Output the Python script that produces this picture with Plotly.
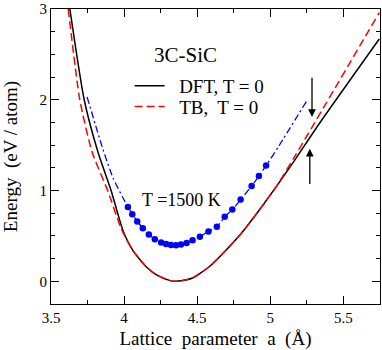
import plotly.graph_objects as go

# DFT, T = 0 (black solid)
dft_a = [3.629, 3.727, 3.82, 3.913, 3.992, 4.06, 4.151, 4.219, 4.31, 4.35, 4.40,
         4.468, 4.582, 4.695, 4.808, 4.922, 4.99, 5.035, 5.165, 5.34, 5.745]
dft_e = [3.0, 2.0, 1.43, 0.99, 0.56, 0.34, 0.16, 0.073, 0.01, 0.0, 0.008,
         0.037, 0.16, 0.34, 0.54, 0.78, 0.93, 1.03, 1.33, 1.75, 2.67]

# TB, T = 0 (red dashed)
tb_a = [3.618, 3.697, 3.78, 3.89, 3.98, 4.06, 4.151, 4.219, 4.31, 4.35, 4.40,
        4.468, 4.582, 4.695, 4.808, 4.922, 4.99, 5.035, 5.165, 5.745]
tb_e = [3.0, 2.0, 1.43, 0.99, 0.58, 0.34, 0.16, 0.073, 0.01, 0.0, 0.008,
        0.037, 0.16, 0.34, 0.54, 0.78, 0.93, 1.03, 1.37, 2.96]

# T = 1500 K points (blue dots)
hot_a = [4.026, 4.056, 4.090, 4.128, 4.169, 4.210, 4.253, 4.287, 4.321, 4.355, 4.389,
         4.427, 4.468, 4.518, 4.577, 4.634, 4.688, 4.740, 4.797, 4.872, 4.922, 4.971]
hot_e = [0.82, 0.74, 0.66, 0.585, 0.517, 0.463, 0.427, 0.412, 0.40, 0.398, 0.405,
         0.423, 0.452, 0.49, 0.55, 0.60, 0.71, 0.79, 0.90, 1.05, 1.16, 1.275]

# fit curve through them (blue dash-dot), extended ends
fit_left_a = [3.747, 3.856, 3.924, 3.992]
fit_left_e = [2.03, 1.45, 1.14, 0.92]
fit_right_a = [5.058, 5.246]
fit_right_e = [1.49, 1.98]

# arrows: (x, tail, head)
arrow_down = (5.285, 2.26, 1.81)
arrow_up = (5.27, 1.055, 1.46)

FONT = "Liberation Serif"

fig = go.Figure()

fig.add_trace(go.Scatter(
    x=fit_left_a + hot_a + fit_right_a, y=fit_left_e + hot_e + fit_right_e,
    mode="lines", line=dict(color="#0000ff", width=1.3, dash="7px,3px,2px,3px",
                            shape="spline", smoothing=0.6),
    showlegend=False,
))
fig.add_trace(go.Scatter(
    x=hot_a, y=hot_e, mode="markers",
    marker=dict(color="#0000ff", size=6.5), showlegend=False,
))
fig.add_trace(go.Scatter(
    x=dft_a, y=dft_e, mode="lines", name="\u00a0\u00a0DFT, T = 0",
    line=dict(color="black", width=1.5, shape="spline", smoothing=0.6),
    legend="legend",
))
fig.add_trace(go.Scatter(
    x=tb_a, y=tb_e, mode="lines", name="\u00a0\u00a0TB,\u00a0 T = 0",
    line=dict(color="#ff0000", width=1.5, dash="8px,4px", shape="spline", smoothing=0.6),
    legend="legend2",
))

for xa, tail, head in (arrow_down, arrow_up):
    fig.add_annotation(
        x=xa, y=head, ax=xa, ay=tail, axref="x", ayref="y",
        showarrow=True, arrowhead=2, arrowsize=1.2, arrowwidth=1.3,
        arrowcolor="black", text="",
    )

fig.add_annotation(x=4.418, y=2.49, text="3C-SiC", showarrow=False,
                   font=dict(family=FONT, size=21, color="black"))
fig.add_annotation(x=4.395, y=0.896, text="T =1500 K", showarrow=False,
                   font=dict(family=FONT, size=18, color="black"))

axis_common = dict(
    showline=True, linecolor="black", linewidth=1.2, mirror="ticks",
    ticks="inside", ticklen=8, tickwidth=1.2, tickcolor="black",
    showgrid=False, zeroline=False, ticklabeloverflow="allow",
    tickfont=dict(family=FONT, size=15, color="black"),
)

fig.update_xaxes(
    range=[3.5, 5.75], tickvals=[3.5, 4, 4.5, 5, 5.5],
    ticktext=["3.5", "4", "4.5", "5", "5.5"],
    minor=dict(dtick=0.25, tick0=3.5, ticks="inside", ticklen=4, tickcolor="black", tickwidth=1.2),
    title=dict(text="Lattice\u00a0 parameter\u00a0 a\u00a0 (Å)",
               font=dict(family=FONT, size=19, color="black"), standoff=6),
    **axis_common,
)
fig.update_yaxes(
    range=[-0.25, 3], tickvals=[0, 1, 2, 3],
    minor=dict(dtick=0.25, tick0=0, ticks="inside", ticklen=4, tickcolor="black", tickwidth=1.2),
    title=dict(text="Energy\u00a0 (eV / atom)",
               font=dict(family=FONT, size=19, color="black"), standoff=16),
    **axis_common,
)

legend_common = dict(
    xanchor="left", yanchor="middle", bgcolor="rgba(0,0,0,0)",
    font=dict(family=FONT, size=19, color="black"), itemwidth=30,
)

fig.update_layout(
    width=382, height=350,
    margin=dict(l=51, r=1, t=5, b=46),
    plot_bgcolor="white", paper_bgcolor="white",
    legend=dict(x=0.239, y=0.739, **legend_common),
    legend2=dict(x=0.239, y=0.669, **legend_common),
)

# page body has a default 8px margin; drop it so the figure sits at 0,0
fig.write_html("out.html", config={"displayModeBar": False},
               post_script="document.body.style.margin='0';")
